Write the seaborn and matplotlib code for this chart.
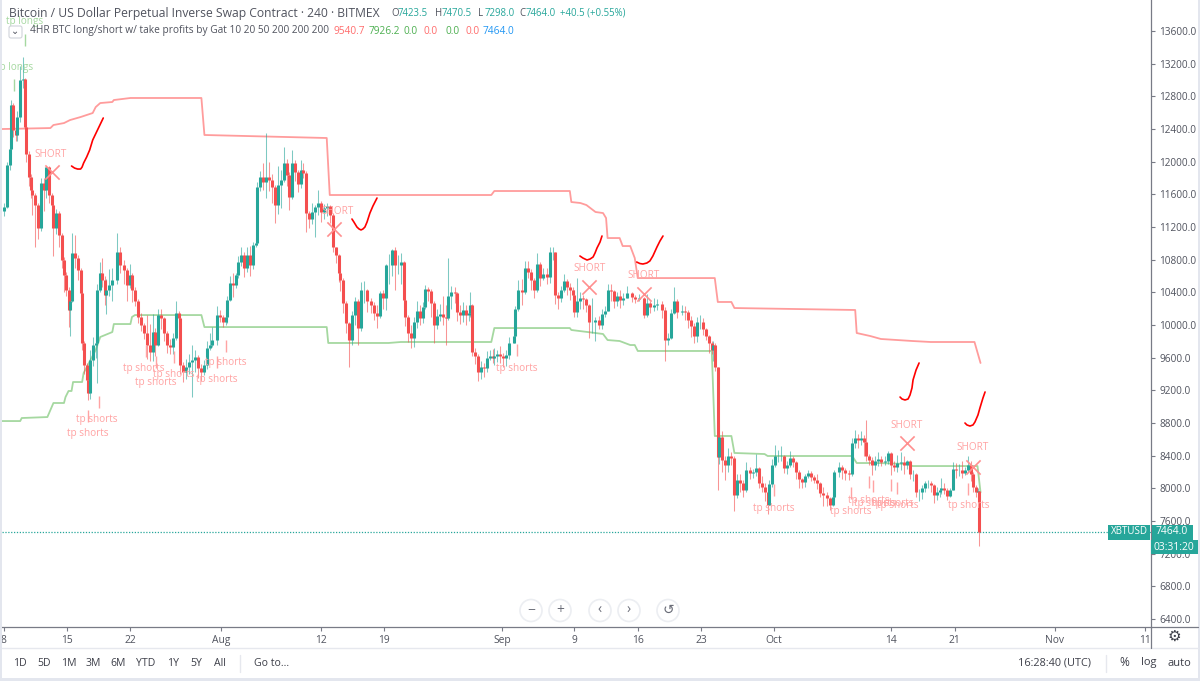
import matplotlib
matplotlib.use("Agg")
import matplotlib.pyplot as plt
from matplotlib.patches import Circle, Rectangle, FancyBboxPatch
import numpy as np
import pandas as pd
import seaborn as sns

# x axis counts 4H bars since Jul 8
bar_index = [
    0,2,4,5,6,8,9,11,13,14,15,17,18,19,21,23,25,27,28,30,
    32,33,35,37,39,40,41,43,44,45,47,49,51,52,53,55,56,57,59,61,
    62,64,65,67,68,70,72,75,77,80,82,84,85,87,89,91,93,95,97,99,
    100,102,104,106,108,110,112,114,116,117,119,121,123,125,127,129,131,133,135,137,
    138,141,143,145,147,148,150,152,154,155,157,159,161,163,165,167,168,170,172,174,
    176,178,180,182,184,186,188,189,191,193,195,197,198,200,202,204,206,208,210,212,
    214,216,218,220,222,223,225,227,229,231,233,235,237,239,241,243,245,247,249,251,
    253,255,257,259,261,263,265,266,268,270,272,274,276,278,279,281,283,285,287,289,
    291,293,294,296,299,300,302,304,306,308,309,310,312,314,316,318,320,322,324,325,
    327,329,331,333,335,338,339,341,343,345,347,349,351,353,355,357,360,362,364,365,
    367,369,371,373,375,377,378,380,382,384,386,388,390,392,394,396,398,400,402,404,
    406,408,410,413,416,418,421,424,426,428,431,433,436,438,440,442,444,446,449,451,
    453,455,457,459,461,463,465,467,469,470,471,473,474,476,478,480,482,484,486,488,
    490,492,494,496,498,500,502,504,506,507,509,511,513,515,517,519,521,523,525,527,
    529,531,533,535,537,539,541,543,545,547,549,550,553,555,557,560,562,564,566,568,
    570,571,573,575,577,579,581,584,586,588,590,592,594,596,598,600,602,604,606,608,
    610,612,614,616,618,620,621,623,625,627,629,631,633,635,637,639,641,642,644,645,
    646]
bar_close = [
    11450,11960,12150,12700,12390,12330,12550,13000,13010,12430,12100,11810,11650,11590,11470,11190,11740,11650,11930,11590,
    11470,11190,11370,11100,10800,10610,10430,10180,10300,10880,10820,10670,10390,9780,9510,9330,9170,9570,9750,9780,
    10430,10640,10550,10370,10430,10490,10550,10890,10730,10670,10490,10610,10430,10300,10100,10000,9900,9750,9670,9920,
    9750,10120,10080,9900,9750,9730,9840,10150,10090,9510,9420,9490,9550,9570,9610,9470,9420,9510,9720,9760,
    9820,10120,10100,10040,10100,10310,10520,10490,10610,10770,10860,10700,10860,10730,10980,11000,11690,11810,11750,11810,
    11770,11690,11470,11710,11770,11980,11840,11570,11990,11870,11730,11900,11860,11370,11300,11380,11440,11490,11380,11430,
    11460,11350,10950,10860,10640,10550,10270,10020,9820,10120,10300,9960,10430,10430,10300,10240,10150,10110,10390,10330,
    10730,10730,10920,10730,10740,10770,10310,10100,9900,9840,10040,10170,10090,10220,10440,10420,10270,10000,10110,10130,
    10100,10090,10350,10400,10390,10160,10120,10180,10120,10150,10240,9670,9620,9420,9490,9470,9600,9620,9600,9620,
    9640,9620,9600,9630,9780,9860,10190,10430,10400,10700,10650,10550,10430,10750,10580,10620,10590,10890,10890,10370,
    10330,10430,10540,10460,10430,10370,10160,10300,10330,10320,10250,10040,10040,10060,10000,10130,10170,10430,10420,10300,
    10360,10310,10330,10390,10340,10320,10330,10120,10270,10220,10240,10260,10180,9820,9840,10150,10300,10160,10170,10160,
    10060,9990,9870,10040,10040,9950,9870,9780,9690,9760,9480,8380,8630,8350,8290,8400,8370,7920,8100,8060,
    7980,8230,8190,8200,8250,8070,8020,7950,7800,8050,8290,8400,8400,8400,8250,8280,8370,8320,8200,8110,
    8080,8150,8190,8140,8100,8060,7940,7920,7880,7800,7890,8200,8260,8220,8190,8170,8550,8620,8590,8620,
    8570,8390,8350,8290,8330,8360,8320,8340,8430,8280,8260,8310,8320,8280,8330,8170,8170,7960,7960,8000,
    8070,8070,8040,7920,7950,7980,8000,7980,7910,7980,8240,8220,8220,8190,8220,8280,8170,8020,7950,7970,
    7464]
bar_high = [
    11500,12000,12260,12760,12720,12460,12620,13170,13280,13020,12450,12130,11850,11720,11620,11500,11800,11800,11950,11950,
    11620,11480,11420,11400,11130,10830,10650,10460,10330,11130,11100,10860,10700,10400,9800,9540,9360,9700,9850,9950,
    10500,10770,10820,10600,10560,10680,10700,11130,10950,10800,10700,10750,10640,10470,10320,10150,10020,10120,10010,10130,
    9960,10190,10200,10100,9930,9830,9900,10290,10170,10100,9550,9580,9640,9750,9700,9630,9520,9570,9800,9900,
    9980,10230,10180,10120,10200,10350,10600,10640,10640,10850,10960,10890,10960,10970,11020,11060,11750,11890,11980,12350,
    12000,11850,11720,11950,11900,12180,12030,11870,12140,12020,11900,12020,11990,11880,11400,11500,11470,11650,11520,11480,
    11500,11470,11370,10960,10870,10670,10570,10290,10040,10170,10340,10320,10530,10540,10440,10330,10280,10250,10420,10430,
    10750,10870,10930,10950,10860,10880,10780,10330,10120,10000,10100,10300,10250,10280,10490,10470,10440,10290,10200,10260,
    10350,10250,10820,10480,10460,10410,10240,10280,10250,10230,10400,10260,9720,9640,9560,9540,9680,9690,9710,9720,
    9700,9740,9660,9700,9850,9950,10230,10550,10560,10780,10780,10680,10580,10880,10770,10700,10700,10950,10950,10900,
    10400,10480,10620,10560,10510,10460,10430,10580,10400,10370,10330,10260,10330,10100,10110,10190,10230,10500,10500,10430,
    10400,10430,10390,10480,10400,10370,10380,10340,10380,10290,10330,10320,10290,10220,9900,10190,10470,10320,10240,10230,
    10180,10110,10020,10100,10120,10090,9960,9880,9800,9810,9780,9490,8790,8700,8400,8500,8450,8390,8180,8170,
    8100,8320,8260,8240,8420,8260,8150,8060,7960,8100,8360,8530,8470,8520,8410,8340,8460,8390,8340,8220,
    8130,8180,8220,8210,8160,8170,8080,8020,7950,7900,7950,8230,8320,8290,8250,8220,8620,8720,8670,8700,
    8650,8840,8420,8380,8400,8450,8390,8400,8460,8440,8330,8410,8440,8390,8350,8350,8220,8190,7990,8040,
    8090,8100,8090,8050,8020,8000,8130,8060,8010,8000,8320,8310,8300,8340,8260,8400,8330,8200,8040,8000,
    7970]
bar_low = [
    11330,11430,11900,12100,12300,12250,12250,12480,12900,12350,12000,11700,11550,11350,10950,11050,11150,11400,11550,11500,
    11400,10850,11120,10950,10700,10400,10350,9980,9860,10280,10700,10550,10330,9700,9400,9200,9080,9100,9500,9600,
    9290,10400,10460,10250,10130,10350,10300,10500,10640,10500,10300,10450,10280,10230,10030,9930,9830,9580,9560,9560,
    9620,9740,9950,9800,9660,9650,9650,9820,9970,9400,9300,9340,9400,9120,9420,9350,9310,9390,9460,9700,
    9730,9760,10040,9970,10000,10030,10300,10340,10450,10580,10720,10590,10650,10600,10680,10950,10980,11640,11650,11560,
    11640,11500,11250,11360,11430,11750,11700,11410,11540,11760,11630,11680,11800,11140,11190,11240,11080,11350,11260,11300,
    11330,11250,10900,10760,10530,10420,10150,9900,9480,9760,10000,9760,9930,10270,10160,10150,10060,9960,10090,10200,
    10180,10500,10600,10430,10620,10500,10220,9990,9790,9720,9730,9960,10000,10030,10200,10300,10100,9780,9950,10050,
    10000,9760,10060,10200,10270,10050,10010,10040,10000,10050,10100,9620,9520,9310,9340,9360,9430,9570,9530,9510,
    9550,9540,9480,9500,9580,9780,9850,10170,10240,10380,10580,10430,10330,10410,10480,10550,10500,10520,10800,10260,
    10200,10280,10400,10370,10310,10250,10100,10100,10200,10200,10160,9840,9900,9810,9950,9950,10100,10170,10300,10210,
    10230,10210,10250,10330,10280,10270,10290,10090,10100,10150,10170,10180,10090,9560,9760,9830,10130,10090,10120,10060,
    9960,9850,9780,9790,9950,9880,9820,9660,9640,9560,9440,7980,8300,8200,8100,8200,8290,7720,7880,7950,
    7900,7960,8120,8130,8150,8000,7950,7850,7680,7790,8020,8260,8320,8340,8190,8170,8260,8260,8120,8000,
    8000,8020,8130,8090,8060,7990,7900,7780,7780,7740,7780,7870,8140,8120,8100,8100,8150,8500,8500,8530,
    8400,8330,8280,8160,8230,8270,8270,8280,8300,8160,8210,8200,8230,8170,8240,8120,8090,7900,7850,7870,
    7950,8000,7960,7820,7860,7900,7930,7930,7860,7890,7980,8130,8150,8130,8160,8200,8090,7950,7900,7880,
    7298]
first_open = 11400

# indicator lines
upper_bar = [-1,31,33,40,44,51,59,61,64,72,73,84,131,133,214,216,323,325,375,376,382,386,392,397,399,400,408,410,415,418,420,471,473,482,484,564,565,574,581,602,614,643,647]
upper_price = [12400,12412,12449,12473,12510,12547,12596,12669,12718,12731,12755,12780,12780,12327,12290,11592,11592,11641,11641,11506,11494,11469,11384,11371,11310,11065,11065,10967,10967,10820,10575,10575,10282,10282,10208,10184,9902,9865,9829,9804,9792,9792,9535]
lower_bar = [-1,11,12,29,33,40,41,43,45,46,52,53,61,64,72,73,84,85,87,131,133,214,215,255,263,323,325,375,376,392,397,400,408,415,418,420,469,471,473,482,484,504,506,562,565,579,599,602,645,647]
lower_price = [8824,8824,8861,8873,9045,9045,9118,9192,9192,9302,9302,9412,9694,9853,9914,10012,10012,10098,10122,10122,9975,9975,9780,9780,9792,9792,9963,9963,9939,9902,9890,9816,9804,9755,9755,9682,9682,8641,8641,8641,8433,8420,8396,8396,8310,8310,8298,8273,8273,7950]

# signals
short_bar = [32,219,388,424,598,642]
short_price = [11873,11175,10465,10380,8555,8261]
short_label_bar = [31,221,388,424,598,642]
short_label_price = [12094,11396,10686,10612,8775,8494]

tp_tick_bar = [63,56,94,113,101,147,141,340,510,561,573,576,588,592,639]
tp_tick_price = [9057,8886,9682,9608,9547,9743,9547,9694,7980,7943,8077,8028,8040,8004,7992]
tp_label_bar = [62,56,93,113,101,147,141,340,510,561,573,577,589,592,639]
tp_label_price = [8837,8677,9473,9388,9302,9535,9327,9473,7759,7722,7845,7820,7820,7784,7784]
tp_long_tick_bar = [14,7]
tp_long_tick_price = [13490,12939]
tp_long_label_bar = [14,7]
tp_long_label_price = [13722,13159]

# hand drawn swooshes
swoosh_bars = [[45,47,49,51,52,53,55,57,59,62.5,66],
               [230.7,232,234,235.4,236.7,238,239.3,240.7,242.6,244.6,247.3],
               [381.7,383.7,386.4,388.4,390.4,391.7,393,395,396.3],
               [419.3,421.4,423.4,426,428,430,432.7,434.7,436.7],
               [593.7,595,597,599,600.3,601.6,602.3,604.3,606.3],
               [636.7,638,640,642,643.3,645.3,646.6,648.6,650]]
swoosh_prices = [[11947,11922,11910,11910,11935,11984,12057,12143,12265,12400,12535],
                 [11298,11261,11200,11176,11164,11176,11200,11261,11371,11457,11555],
                 [10845,10820,10796,10808,10833,10882,10943,11016,11090],
                 [10771,10753,10747,10759,10784,10845,10955,11029,11090],
                 [9118,9094,9082,9094,9143,9229,9327,9449,9535],
                 [8800,8776,8763,8776,8812,8898,8984,9106,9180]]

price_ticks = [6400,6800,7200,7600,8000,8400,8800,9200,9600,10000,10400,10800,11200,11600,12000,12400,12800,13200,13600]
date_bars = [0,42,84,144,210,252,330,378,420,462,510,588,630,696,756]
date_labels = ["8","15","22","Aug","12","19","Sep","9","16","23","Oct","14","21","Nov","11"]
last_price = 7464

UP = "#26a69a"
DOWN = "#f44f4f"
SOFT_RED = "#ffa3a3"
SOFT_GREEN = "#a5d8a0"
INK = "#50535e"
TAG = "#26a69a"

sns.set_theme(style="white")
plt.rcParams["font.family"] = ["Open Sans", "DejaVu Sans"]

W, H = 1200, 681
fig = plt.figure(figsize=(W / 100, H / 100), dpi=100, facecolor="white")
ax = fig.add_axes([2 / W, (H - 627) / H, 1149 / W, 627 / H])
ax.set_xlim(-1.06, 759.9)
ax.set_ylim(6302, 13980)

sns.lineplot(x=upper_bar, y=upper_price, color="#ff9c9c", lw=1.3, sort=False, estimator=None, ax=ax, zorder=2)
sns.lineplot(x=lower_bar, y=lower_price, color=SOFT_GREEN, lw=1.3, sort=False, estimator=None, ax=ax, zorder=2)

bars = pd.DataFrame({"bar": bar_index, "close": bar_close, "high": bar_high, "low": bar_low})
bars["open"] = [first_open] + bar_close[:-1]
colors = np.where(bars.close >= bars.open, UP, DOWN)
ax.vlines(bars.bar, bars.low, bars.high, colors=colors, lw=0.75, alpha=0.6, zorder=3)
ax.vlines(bars.bar, bars.open, bars.close, colors=colors, lw=2.2, zorder=4)

ax.axhline(last_price, color=UP, lw=0.9, ls=(0, (1, 1.3)), zorder=3)

sns.scatterplot(x=short_bar, y=short_price, marker="x", s=105, color="#ff8f8f", linewidth=1.2, ax=ax, zorder=5)
sns.scatterplot(x=tp_tick_bar, y=tp_tick_price, marker="|", s=80, color=SOFT_RED, linewidth=1, ax=ax, zorder=5)
sns.scatterplot(x=tp_long_tick_bar, y=tp_long_tick_price, marker="|", s=80, color=SOFT_GREEN, linewidth=1, ax=ax, zorder=5)

for b, p in zip(short_label_bar, short_label_price):
    ax.text(b, p, "SHORT", color=SOFT_RED, fontsize=7.2, ha="center", va="center", zorder=6)
for b, p in zip(tp_label_bar, tp_label_price):
    ax.text(b, p, "tp shorts", color=SOFT_RED, fontsize=7.2, ha="center", va="center", zorder=6)
for b, p in zip(tp_long_label_bar, tp_long_label_price):
    ax.text(b, p, "tp longs", color=SOFT_GREEN, fontsize=7.2, ha="center", va="center", zorder=1)

for xs, ys in zip(swoosh_bars, swoosh_prices):
    sns.lineplot(x=xs, y=ys, color="#ff0000", lw=1.2, sort=False, estimator=None, ax=ax, zorder=7)

ax.yaxis.tick_right()
ax.set_yticks(price_ticks)
ax.set_yticklabels(["%.1f" % p for p in price_ticks])
ax.set_xticks(date_bars)
ax.set_xticklabels(date_labels)
ax.tick_params(axis="y", length=3, width=0.8, color="#787b86", labelcolor=INK, labelsize=7.2, pad=3, right=True)
ax.tick_params(axis="x", length=3, width=0.8, color="#787b86", labelcolor=INK, labelsize=7.4, pad=3, bottom=True)
ax.set_xlabel("")
ax.set_ylabel("")
ax.grid(False)
for s in ["top", "left"]:
    ax.spines[s].set_visible(False)
for s in ["right", "bottom"]:
    ax.spines[s].set_color("#787b86")
    ax.spines[s].set_linewidth(0.9)

# overlay in pixel units for the app chrome around the chart
ui = fig.add_axes([0, 0, 1, 1], facecolor="none")
ui.set_xlim(0, W)
ui.set_ylim(H, 0)
ui.axis("off")

ui.add_patch(Rectangle((0, 0), 2, H, color="#e3e6ee", lw=0))
ui.add_patch(Rectangle((0, 678), W, 3, color="#e3e6ee", lw=0))
ui.add_patch(Rectangle((1198, 0), 2, H, color="#e3e6ee", lw=0))
ui.plot([2, 1198], [648, 648], color="#e6e8ee", lw=1)
ui.plot([1151, 1151], [627, 648], color="#787b86", lw=0.9)
ui.plot([1151, 1198], [627, 627], color="#787b86", lw=0.9)
ui.plot([240, 240], [655, 672], color="#e6e8ee", lw=1)
ui.plot([1106, 1106], [655, 672], color="#e6e8ee", lw=1)


def label(x, y, s, color=INK, size=7.6, ha="left"):
    ui.text(x, y, s, color=color, fontsize=size, ha=ha, va="center")


label(9, 13, "Bitcoin / US Dollar Perpetual Inverse Swap Contract · 240 · BITMEX", size=8.75)
x_values = [391, 435, 478, 519]
for x, pre, val in zip(x_values, "OHLC", ["7423.5", "7470.5", "7298.0", "7464.0"]):
    label(x, 13, pre, size=6.9)
    label(x + 7, 13, val, color=UP, size=6.9)
label(560, 13, "+40.5 (+0.55%)", color=UP, size=6.9)

ui.add_patch(FancyBboxPatch((9, 26), 13, 12, boxstyle="round,pad=0,rounding_size=2", fc="white", ec="#d0d3da", lw=0.8))
label(15.5, 32, "⌄", size=7, ha="center")
label(30, 31, "4HR BTC long/short w/ take profits by Gat 10 20 50 200 200 200", size=7.3)
legend_x = [334, 369, 404, 424, 445, 466, 483]
legend_vals = ["9540.7", "7926.2", "0.0", "0.0", "0.0", "0.0", "7464.0"]
legend_cols = ["#ff6b6b", "#4caf50", "#4caf50", "#ff6b6b", "#4caf50", "#ff6b6b", "#2196f3"]
for x, v, c in zip(legend_x, legend_vals, legend_cols):
    label(x, 31, v, color=c, size=7.3)

# price tags
ui.add_patch(Rectangle((1108, 525), 42, 15, color=TAG, lw=0))
ui.add_patch(Rectangle((1152, 525), 41, 15, color=TAG, lw=0))
ui.add_patch(Rectangle((1151, 540), 47, 14, color=TAG, lw=0))
label(1129, 532, "XBTUSD", color="white", size=7, ha="center")
label(1172, 532, "7464.0", color="white", size=7.4, ha="center")
label(1174, 547, "03:31:20", color="white", size=7.4, ha="center")

# zoom buttons
for x, s in zip([531, 560, 600, 629, 668], ["−", "+", "‹", "›", "↺"]):
    ui.add_patch(Circle((x, 610.5), 11, fc="white", ec="#eceef2", lw=1.2))
    label(x, 610, s, color="#6a6d78", size=10, ha="center")

# bottom toolbar
for x, s in zip([20, 44, 69, 93, 118, 146, 173, 196, 220], ["1D", "5D", "1M", "3M", "6M", "YTD", "1Y", "5Y", "All"]):
    label(x, 663, s, color="#3d3f49", size=7.6, ha="center")
label(272, 663, "Go to...", color="#3d3f49", size=7.6, ha="center")
label(1055, 663, "16:28:40 (UTC)", color="#3d3f49", size=7.8, ha="center")
label(1124, 663, "%", color="#3d3f49", size=8.6, ha="center")
label(1149, 663, "log", color="#3d3f49", size=8, ha="center")
label(1179, 663, "auto", color="#3d3f49", size=8, ha="center")
label(1174, 637, "⚙", color="#3d3f49", size=11, ha="center")

fig.savefig("out.png", dpi=100)
